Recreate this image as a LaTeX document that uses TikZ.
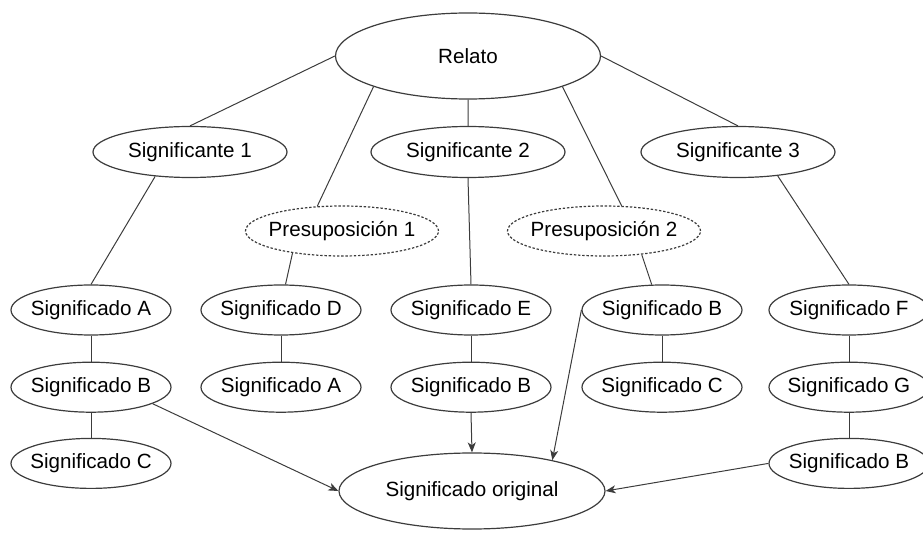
\documentclass[tikz,border=0pt]{standalone}
\usepackage{fontspec}
\setmainfont{Liberation Sans}
\definecolor{lineg}{HTML}{3C3C3C}
\usepackage{tikz}
\usetikzlibrary{shapes.geometric, arrows.meta, positioning}

\begin{document}
\begin{tikzpicture}[x=0.5pt, y=-0.5pt, >={Stealth[length=5pt, width=4pt, inset=1.4pt]},
	Elip/.style={ellipse, draw=lineg, line width=0.6pt, inner xsep=-10pt, inner ysep=0pt, font={\fontsize{10.3}{12}\selectfont}},
	Sig/.style={Elip, minimum width=80pt, minimum height=25pt},
	Ste/.style={Elip, minimum width=97pt, minimum height=25.5pt},
	Pre/.style={Elip, minimum width=96.5pt, minimum height=25pt, dash pattern=on 1.2pt off 0.9pt},
	Lnk/.style={draw=lineg, line width=0.5pt}]
\useasboundingbox (0,0) rectangle (923,535);
\clip (0,0) rectangle (923,535);
% top levels
\node[Elip, minimum width=132.5pt, minimum height=43pt] (rel) at (468,56) {Relato};
\node[Ste] (ste1) at (190,152) {Significante 1};
\node[Ste] (ste2) at (468,152) {Significante 2};
\node[Ste] (ste3) at (738,152) {Significante 3};
\node[Pre] (pre1) at (342,231) {Presuposición 1};
\node[Pre] (pre2) at (604,231) {Presuposición 2};
% significados
\node[Sig] (sA) at (91,310) {Significado A};
\node[Sig, below=13pt of sA] (sB1) {Significado B};
\node[Sig, below=12.5pt of sB1] (sC1) {Significado C};
\node[Sig] (sD) at (281,310) {Significado D};
\node[Sig, below=13pt of sD] (sA2) {Significado A};
\node[Sig] (sE) at (471,310) {Significado E};
\node[Sig, below=13pt of sE] (sB3) {Significado B};
\node[Sig] (sB4) at (662,310) {Significado B};
\node[Sig, below=13pt of sB4] (sC4) {Significado C};
\node[Sig] (sF) at (849,310) {Significado F};
\node[Sig, below=13pt of sF] (sG) {Significado G};
\node[Sig, below=12.5pt of sG] (sB5) {Significado B};
\node[Elip, minimum width=133pt, minimum height=38pt] (orig) at (472,491) {Significado original};
% links
\path[Lnk] (rel.west) -- (ste1.north)
	(rel.198) -- (pre1.135)
	(rel.south) -- (ste2.north)
	(rel.342) -- (pre2.55)
	(rel.east) -- (ste3.north)
	(ste1.215) -- (sA.north)
	(pre1.204) -- (sD.80)
	(ste2.south) -- (sE.north)
	(pre2.328) -- (sB4.112)
	(ste3.329) -- (sF.north);
\path[Lnk] (sA) -- (sB1) -- (sC1)
	(sD) -- (sA2)
	(sE) -- (sB3)
	(sB4) -- (sC4)
	(sF) -- (sG) -- (sB5);
\path[Lnk, ->] (sB1.345) -- (orig.west);
\path[Lnk, ->] (sB3.south) -- (orig.north);
\path[Lnk, ->] (sB4.west) -- (orig.21);
\path[Lnk, ->] (sB5.west) -- (orig.east);
\end{tikzpicture}
\end{document}
